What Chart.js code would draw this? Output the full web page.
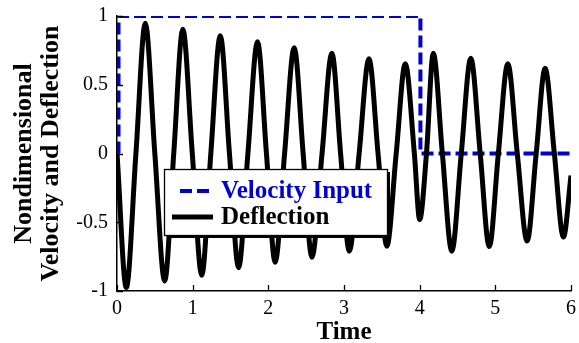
<!DOCTYPE html>
<html>
<head>
<meta charset="utf-8">
<script src="https://cdn.jsdelivr.net/npm/chart.js@4.4.1/dist/chart.umd.min.js"></script>
<style>
  html, body { margin: 0; padding: 0; background: #fff; }
  #chart { display: block; }
</style>
</head>
<body>
<canvas id="chart" width="579" height="343"></canvas>
<script>
// time of each read point (peaks, troughs and zero crossings)
const times = [0, 0.123, 0.25, 0.374, 0.50, 0.63, 0.75, 0.87, 0.995, 1.12,
  1.24, 1.365, 1.486, 1.607, 1.73, 1.857, 1.975, 2.09, 2.215, 2.342,
  2.46, 2.576, 2.71, 2.84, 2.955, 3.07, 3.2, 3.33, 3.45, 3.566,
  3.69, 3.81, 3.93, 4.0, 4.09, 4.18, 4.30, 4.425, 4.55, 4.676,
  4.8, 4.92, 5.04, 5.165, 5.29, 5.42, 5.54, 5.658, 5.78, 5.9, 6.0];
const deflection = [0, -0.975, 0, 0.947, 0, -0.928, 0, 0.903, 0, -0.885,
  0, 0.856, 0, -0.83, 0, 0.812, 0, -0.79, 0, 0.769,
  0, -0.754, 0, 0.729, 0, -0.71, 0, 0.689, 0, -0.674,
  0, 0.653, 0, -0.48, 0, 0.729, 0, -0.71, 0, 0.693,
  0, -0.677, 0, 0.653, 0, -0.637, 0, 0.62, 0, -0.608, -0.16];

const velTimes = [0.02, 0.02, 4.01, 4.01, 6];
const velocity = [0, 1, 1, 0, 0];

const xTicks = [0, 1, 2, 3, 4, 5, 6];
const yTicks = [-1, -0.5, 0, 0.5, 1];

const BLUE = '#0000d2';
const FONT = "'Liberation Serif', 'Times New Roman', serif";

// little ticks pointing into the plot, like the original figure
const innerTicks = {
  id: 'innerTicks',
  afterDatasetsDraw(chart) {
    const { ctx, chartArea: a, scales: { x, y } } = chart;
    ctx.save();
    ctx.strokeStyle = '#000';
    ctx.lineWidth = 1.3;
    ctx.beginPath();
    xTicks.forEach(v => {
      const px = Math.round(x.getPixelForValue(v)) + 0.5;
      ctx.moveTo(px, a.bottom);
      ctx.lineTo(px, a.bottom - 6);
    });
    yTicks.forEach(v => {
      const py = Math.round(y.getPixelForValue(v)) + 0.5;
      ctx.moveTo(a.left, py);
      ctx.lineTo(a.left + 6, py);
    });
    ctx.stroke();
    ctx.restore();
  }
};

// boxed legend sitting inside the plot
const boxLegend = {
  id: 'boxLegend',
  afterDraw(chart) {
    const { ctx, chartArea: a } = chart;
    const left = a.left + 47, top = a.top + 153;
    const w = 223, h = 66;
    ctx.save();
    ctx.fillStyle = '#000';
    ctx.fillRect(left + 3, top + 3, w, h);
    ctx.fillStyle = '#fff';
    ctx.fillRect(left, top, w, h);
    ctx.strokeStyle = '#000';
    ctx.lineWidth = 1.3;
    ctx.strokeRect(left + 0.5, top + 0.5, w, h);

    ctx.font = "bold 25px " + FONT;
    ctx.textBaseline = 'middle';
    const rows = [22, 48];
    chart.data.datasets.forEach((ds, i) => {
      const cy = top + rows[i];
      ctx.beginPath();
      ctx.lineWidth = ds.borderWidth;
      ctx.strokeStyle = ds.borderColor;
      ctx.setLineDash(ds.borderDash || []);
      if (ds.borderDash) {
        ctx.moveTo(left + 16, cy);
        ctx.lineTo(left + 46, cy);
      } else {
        ctx.moveTo(left + 8, cy);
        ctx.lineTo(left + 49, cy);
      }
      ctx.stroke();
      ctx.setLineDash([]);
      ctx.fillStyle = ds.borderColor;
      ctx.fillText(ds.label, left + 57, cy + 1);
    });
    ctx.restore();
  }
};

new Chart(document.getElementById('chart'), {
  type: 'line',
  data: {
    datasets: [
      {
        label: 'Velocity Input',
        data: velTimes.map((t, i) => ({ x: t, y: velocity[i] })),
        borderColor: BLUE,
        borderWidth: 4,
        borderDash: [12, 5],
        pointRadius: 0,
        tension: 0,
        order: 2
      },
      {
        label: 'Deflection',
        data: times.map((t, i) => ({ x: t, y: deflection[i] })),
        borderColor: '#000',
        borderWidth: 5,
        pointRadius: 0,
        cubicInterpolationMode: 'monotone',
        order: 1
      }
    ]
  },
  options: {
    responsive: false,
    animation: false,
    layout: { padding: { top: 16, right: 8, left: 0, bottom: 0 } },
    plugins: {
      legend: { display: false },
      tooltip: { enabled: false }
    },
    scales: {
      x: {
        type: 'linear',
        min: 0,
        max: 6,
        afterFit(s) {
          s.height = 52;
          s.paddingLeft = 0;
          s.paddingRight = 0;
        },
        afterBuildTicks(s) { s.ticks = xTicks.map(v => ({ value: v })); },
        grid: { display: false, drawTicks: false },
        border: { color: '#000', width: 1.5 },
        ticks: { color: '#000', padding: 6, font: { family: FONT, size: 20 },
                 callback: v => String(v) },
        title: {
          display: true,
          text: 'Time',
          color: '#000',
          padding: { top: 0, bottom: -3 },
          font: { family: FONT, size: 25, weight: 'bold', lineHeight: 1.08 }
        }
      },
      y: {
        min: -1,
        max: 1,
        afterFit(s) {
          s.width = 117;
          s.paddingTop = 0;
          s.paddingBottom = 0;
        },
        afterBuildTicks(s) { s.ticks = yTicks.map(v => ({ value: v })); },
        grid: { display: false, drawTicks: false },
        border: { color: '#000', width: 1.5 },
        ticks: { color: '#000', padding: 9, font: { family: FONT, size: 20 },
                 callback: v => String(v) },
        title: {
          display: true,
          text: ['Nondimensional', 'Velocity and Deflection'],
          color: '#000',
          padding: { top: 11, bottom: 0 },
          font: { family: FONT, size: 26, weight: 'bold', lineHeight: 1.04 }
        }
      }
    }
  },
  plugins: [innerTicks, boxLegend]
});
</script>
</body>
</html>
